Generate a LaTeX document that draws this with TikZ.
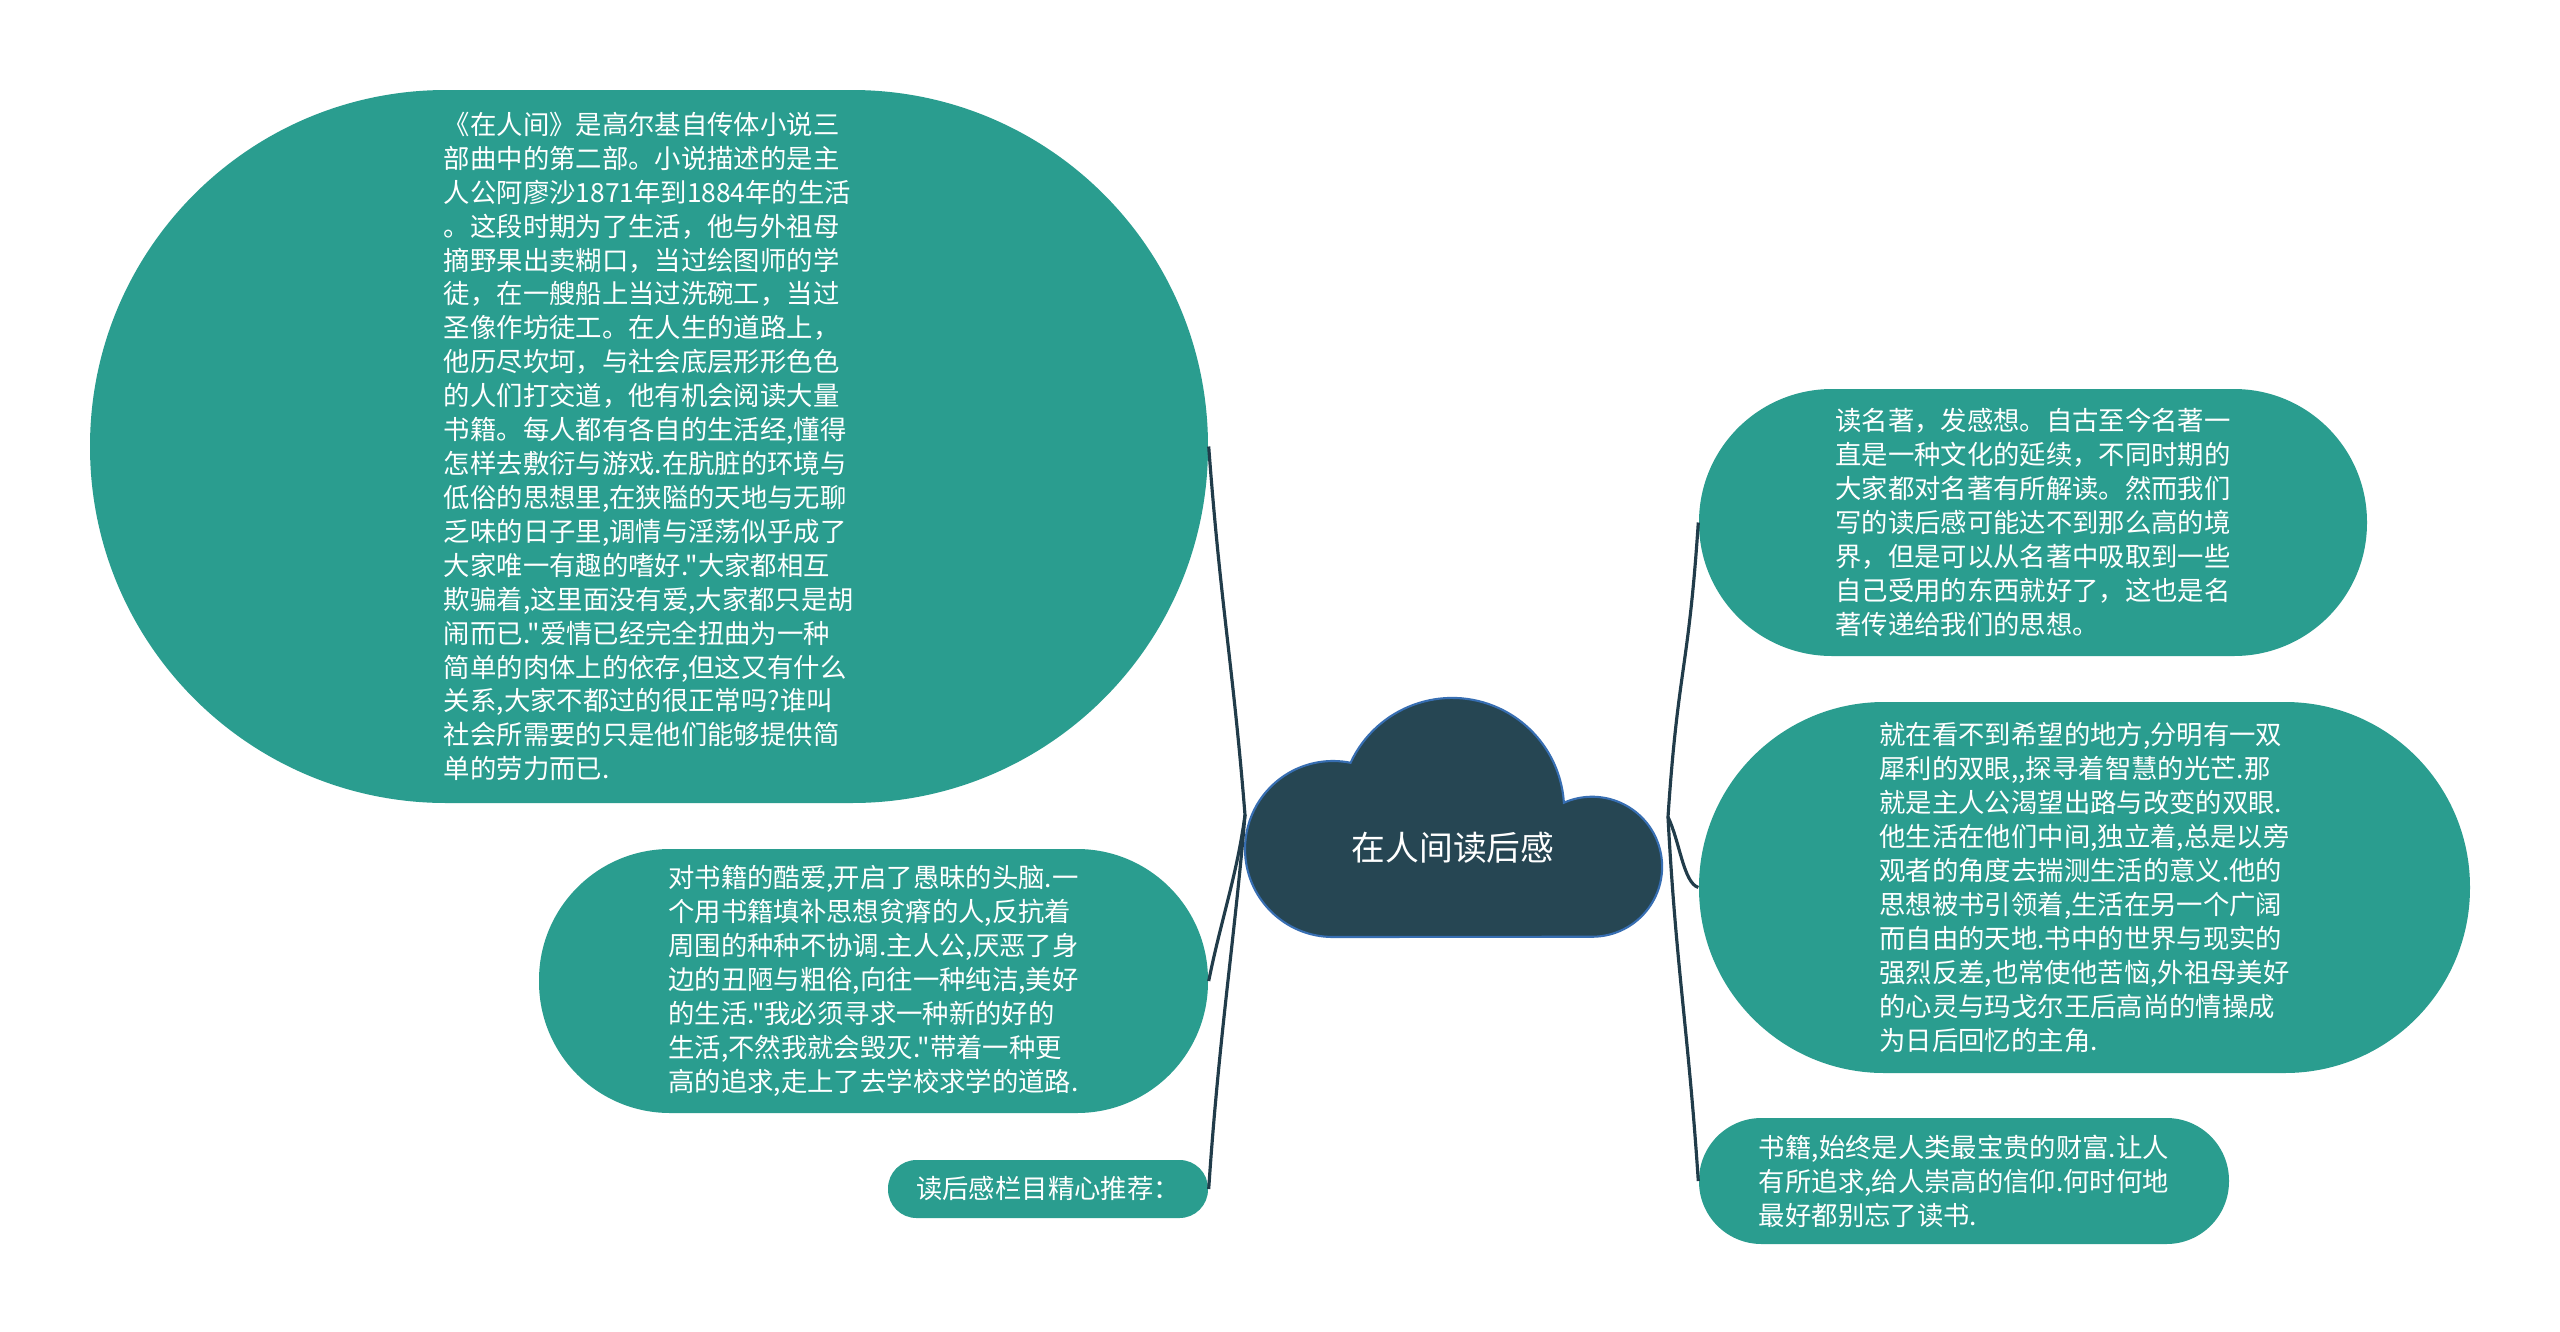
\documentclass[tikz,border=0pt]{standalone}
\usepackage{fontspec}
\setmainfont{Noto Sans CJK SC}[Ligatures=TeXOff]
\usepackage{tikz}
\usetikzlibrary{positioning}
\definecolor{leafgreen}{RGB}{42,157,143}
\definecolor{cloudfill}{RGB}{38,70,83}
\definecolor{cloudedge}{RGB}{55,110,178}
\definecolor{linkdark}{RGB}{33,60,74}

\begin{document}
\begin{tikzpicture}[x=0.1mm, y=-0.1mm,
    leaf/.style={fill=leafgreen, text=white, align=left, inner sep=0pt,
        font=\fontsize{7.5}{9.65}\selectfont},
    link/.style={draw=linkdark, line width=0.9pt}]
    \useasboundingbox (0,0) rectangle (2560,1332);
    \fill[white] (0,0) rectangle (2560,1332);

    % Central cloud
    \filldraw[fill=cloudfill, draw=cloudedge, line width=0.6pt]
        (1333,937) arc[start angle=90, end angle=281.5, radius=88]
        arc[start angle=204.9, end angle=356.3, radius=112]
        arc[start angle=246.2, end angle=450, radius=70] -- cycle;
    \node[text=white, font=\fontsize{9.6}{12}\selectfont] (root) at (1453,848) {在人间读后感};
    \coordinate (lj) at (1245,815);
    \coordinate (rj) at (1668,817);

    % Left side
    \node[leaf, minimum width=111.8mm, minimum height=71.3mm, rounded corners=35.6mm] (book) at (649,446.5)
        {《在人间》是高尔基自传体小说三\\
         部曲中的第二部。小说描述的是主\\
         人公阿廖沙1871年到1884年的生活\\
         。这段时期为了生活，他与外祖母\\
         摘野果出卖糊口，当过绘图师的学\\
         徒，在一艘船上当过洗碗工，当过\\
         圣像作坊徒工。在人生的道路上，\\
         他历尽坎坷，与社会底层形形色色\\
         的人们打交道，他有机会阅读大量\\
         书籍。每人都有各自的生活经,懂得\\
         怎样去敷衍与游戏.在肮脏的环境与\\
         低俗的思想里,在狭隘的天地与无聊\\
         乏味的日子里,调情与淫荡似乎成了\\
         大家唯一有趣的嗜好."大家都相互\\
         欺骗着,这里面没有爱,大家都只是胡\\
         闹而已."爱情已经完全扭曲为一种\\
         简单的肉体上的依存,但这又有什么\\
         关系,大家不都过的很正常吗?谁叫\\
         社会所需要的只是他们能够提供简\\
         单的劳力而已.};
    \node[leaf, minimum width=66.9mm, minimum height=26.4mm, rounded corners=13.1mm] (love) at (873.5,981)
        {对书籍的酷爱,开启了愚昧的头脑.一\\
         个用书籍填补思想贫瘠的人,反抗着\\
         周围的种种不协调.主人公,厌恶了身\\
         边的丑陋与粗俗,向往一种纯洁,美好\\
         的生活."我必须寻求一种新的好的\\
         生活,不然我就会毁灭."带着一种更\\
         高的追求,走上了去学校求学的道路.};
    \node[leaf, minimum width=32mm, minimum height=5.8mm, rounded corners=2.85mm] (tip) at (1048,1189)
        {读后感栏目精心推荐：};

    % Right side
    \node[leaf, minimum width=66.8mm, minimum height=26.7mm, rounded corners=13.3mm] (classic) at (2033,522.5)
        {读名著，发感想。自古至今名著一\\
         直是一种文化的延续，不同时期的\\
         大家都对名著有所解读。然而我们\\
         写的读后感可能达不到那么高的境\\
         界，但是可以从名著中吸取到一些\\
         自己受用的东西就好了，这也是名\\
         著传递给我们的思想。};
    \node[leaf, minimum width=77.1mm, minimum height=37.1mm, rounded corners=18.5mm] (eyes) at (2084.5,887.5)
        {就在看不到希望的地方,分明有一双\\
         犀利的双眼,,探寻着智慧的光芒.那\\
         就是主人公渴望出路与改变的双眼.\\
         他生活在他们中间,独立着,总是以旁\\
         观者的角度去揣测生活的意义.他的\\
         思想被书引领着,生活在另一个广阔\\
         而自由的天地.书中的世界与现实的\\
         强烈反差,也常使他苦恼,外祖母美好\\
         的心灵与玛戈尔王后高尚的情操成\\
         为日后回忆的主角.};
    \node[leaf, minimum width=53mm, minimum height=12.6mm, rounded corners=6.25mm] (wealth) at (1964,1181)
        {书籍,始终是人类最宝贵的财富.让人\\
         有所追求,给人崇高的信仰.何时何地\\
         最好都别忘了读书.};

    % Links
    \draw[link] (lj) .. controls +(-12,-150) and +(12,160) .. (book.east);
    \draw[link] (lj) .. controls +(-8,60) and +(12,-60) .. (love.east);
    \draw[link] (lj) .. controls +(-10,120) and +(10,-150) .. (tip.east);
    \draw[link] (rj) .. controls +(10,-150) and +(-10,150) .. (classic.west);
    \draw[link] (rj) .. controls +(12,25) and +(-15,-5) .. (eyes.west);
    \draw[link] (rj) .. controls +(8,150) and +(-10,-150) .. (wealth.west);
\end{tikzpicture}
\end{document}
